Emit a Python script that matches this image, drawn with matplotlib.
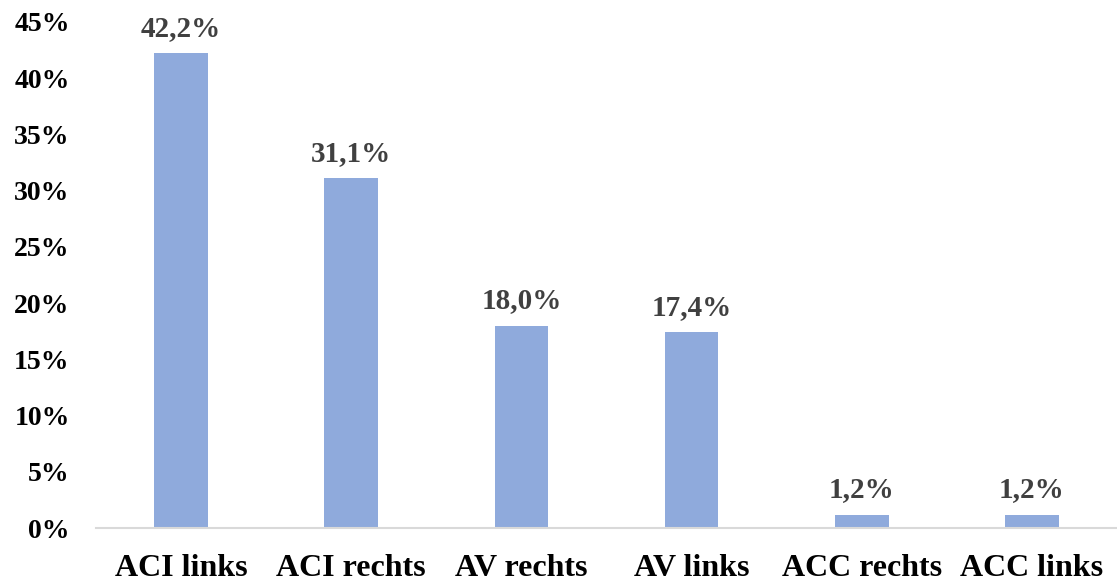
import matplotlib
matplotlib.use("Agg")
import matplotlib.pyplot as plt
from matplotlib.ticker import FuncFormatter, MultipleLocator

categories = ["ACI links", "ACI rechts", "AV rechts", "AV links", "ACC rechts", "ACC links"]
values = [42.2, 31.1, 18.0, 17.4, 1.2, 1.2]

plt.rcParams["font.family"] = ["Liberation Serif", "DejaVu Serif"]

fig = plt.figure(figsize=(11.17, 5.83), dpi=100)
ax = fig.add_axes([0.086, 0.0943, 0.914, 0.868])

x = list(range(len(categories)))
bars = ax.bar(x, values, width=0.316, color="#8FAADC", zorder=2)

for xi, v in zip(x, values):
    ax.annotate(f"{v:.1f}%".replace(".", ","), (xi, v), xytext=(0, 8),
                textcoords="offset points", ha="center", va="bottom",
                fontsize=21, fontweight="bold", color="#404040")

ax.set_xlim(-0.5, len(categories) - 0.5)
ax.set_ylim(0, 45)
ax.yaxis.set_major_locator(MultipleLocator(5))
ax.yaxis.set_major_formatter(FuncFormatter(lambda v, p: f"{v:.0f}%"))
ax.set_xticks(x)
ax.set_xticklabels(categories)

for s in ["top", "right", "left"]:
    ax.spines[s].set_visible(False)
ax.spines["bottom"].set_color("#D9D9D9")
ax.spines["bottom"].set_linewidth(1.5)

ax.tick_params(axis="y", length=0, pad=19, labelsize=20)
ax.tick_params(axis="x", length=0, pad=19, labelsize=23)
for lab in ax.get_yticklabels() + ax.get_xticklabels():
    lab.set_fontweight("bold")
    lab.set_color("black")

fig.savefig("out.png", dpi=100)
